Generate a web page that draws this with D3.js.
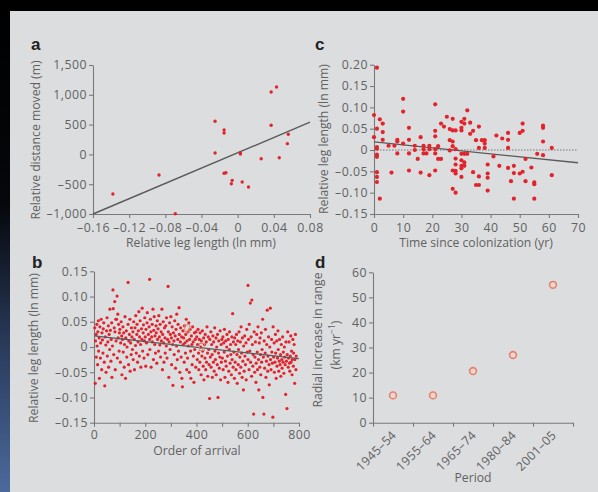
<!DOCTYPE html>
<html>
<head>
<meta charset="utf-8">
<script src="https://cdn.jsdelivr.net/npm/d3@7"></script>
<style>
body { margin: 0; background: #000; }
svg { display: block; }
</style>
</head>
<body>
<svg></svg>
<script>
// panel a
let aLeg  = [-0.138,-0.087,-0.069,-0.025,-0.025,-0.015,-0.015,-0.015,-0.013,-0.006,-0.007,0.003,0.003,0.005,0.012,0.026,0.037,0.043,0.037,0.046,0.055,0.056];
let aDist = [-664,-346,-995,555,23,409,359,-317,-307,-435,-492,23,7,-463,-547,-72,1047,1131,488,-55,180,337];
let aFit  = [[-0.16,-1000],[0.08,540]];
let aXTicks = [-0.16,-0.12,-0.08,-0.04,0,0.04,0.08];
let aYTicks = [-1000,-500,0,500,1000,1500];

// panel b
let bPoints = [
[3,0.038],[5,-0.072],[6,0.012],[8,0.025],[9,-0.02],[11,0.045],[12,0.002],[14,-0.035],[15,0.03],[17,0.052],[18,-0.008],[20,0.018],[21,-0.062],[23,0.04],[25,-0.022],[26,0.008],[28,0.055],[30,-0.045],[31,0.028],[33,0.014],[35,-0.012],[36,0.036],[38,0.048],[40,-0.03],[42,-0.077],[44,0.02],[46,0.004],[47,-0.05],[49,0.032],
[51,0.058],[52,-0.018],[54,0.01],[56,0.042],[57,-0.04],[59,0.025],[61,-0.005],[62,0.075],[64,0.033],[66,-0.028],[67,0.015],[69,0.048],[70,-0.06],[72,0.002],[74,0.113],[75,0.076],[77,-0.015],[79,0.038],[81,0.09],[82,0.03],[83,-0.045],[85,0.055],[86,0.012],[88,0.055],[90,0.101],[91,-0.022],[93,0.065],[94,0.018],[96,0.045],[98,-0.008],[99,0.028],
[101,0.035],[103,-0.03],[104,0.008],[106,0.05],[108,0.022],[109,-0.055],[111,0.015],[113,0.04],[114,-0.01],[116,0.028],[118,-0.04],[119,0.005],[121,0.06],[123,-0.062],[124,0.018],[126,0.032],[128,-0.02],[129,0.0],[133,0.128],[133,0.045],[135,-0.035],[136,0.012],[138,0.025],[140,0.055],[141,-0.048],[143,0.008],[145,-0.015],[146,0.038],[148,0.02],[150,-0.005],
[152,0.03],[153,-0.025],[155,0.05],[157,0.015],[158,-0.045],[160,0.038],[162,0.003],[163,0.062],[165,-0.012],[167,0.025],[168,0.045],[170,-0.03],[172,0.01],[173,0.032],[175,0.07],[177,-0.018],[178,0.02],[180,0.052],[182,0.005],[183,-0.04],[185,0.036],[187,0.015],[188,0.077],[190,-0.008],[192,0.028],[193,0.044],[195,-0.022],[197,0.012],[198,0.058],
[200,0.02],[202,-0.038],[203,0.035],[205,0.008],[207,0.048],[208,0.068],[210,-0.015],[212,0.025],[217,0.134],[215,0.04],[217,0.015],[218,-0.005],[220,0.055],[222,0.03],[223,-0.04],[225,0.02],[227,0.045],[228,0.01],[230,0.075],[232,-0.025],[233,0.033],[235,0.06],[237,0.005],[238,0.022],[240,-0.012],[242,0.042],[243,0.028],[245,-0.032],[247,0.052],[248,0.015],
[250,0.036],[252,-0.008],[253,0.062],[255,0.02],[257,0.004],[258,0.045],[260,-0.02],[262,0.03],[263,0.012],[265,0.075],[267,-0.045],[268,0.025],[270,0.05],[272,0.008],[273,-0.03],[275,0.038],[277,0.018],[278,-0.012],[280,0.042],[282,0.002],[283,0.058],[285,-0.022],[287,0.015],[289,0.12],[290,0.03],[292,-0.06],[293,0.01],[295,0.048],[297,-0.005],[298,0.025],
[300,0.06],[302,0.018],[303,-0.035],[305,0.04],[307,0.005],[308,-0.076],[310,0.028],[312,0.012],[313,-0.015],[315,0.052],[317,0.022],[318,-0.042],[320,0.035],[322,0.002],[323,0.065],[325,-0.025],[327,0.015],[328,0.045],[330,-0.008],[332,0.078],[333,0.025],[335,-0.05],[337,0.01],[338,0.038],[340,-0.02],[342,0.02],[343,-0.062],[345,-0.079],[347,0.032],[348,0.005],
[350,0.018],[352,-0.03],[353,0.042],[355,0.008],[357,-0.012],[358,0.025],[360,0.055],[362,-0.045],[363,0.012],[365,-0.022],[367,0.03],[368,0.002],[370,0.048],[372,-0.05],[373,0.015],[375,0.035],[377,-0.008],[378,-0.062],[380,0.022],[382,0.005],[383,-0.035],[385,0.04],[387,0.01],[388,-0.018],[390,-0.07],[392,0.028],[393,-0.005],[395,0.015],[397,-0.04],[398,0.03],
[401,0.02],[403,-0.025],[404,0.005],[406,0.035],[408,-0.012],[409,-0.045],[411,0.015],[413,-0.03],[414,0.028],[416,0.0],[418,-0.055],[419,0.012],[421,-0.018],[423,0.032],[424,-0.008],[426,-0.038],[428,0.018],[429,-0.065],[431,0.005],[433,-0.022],[434,0.025],[436,-0.045],[438,0.01],[439,-0.03],[441,0.04],[443,-0.012],[444,-0.058],[446,0.02],[448,-0.005],[449,-0.035],
[451,-0.102],[452,0.015],[454,-0.02],[456,0.03],[457,-0.04],[459,0.005],[461,-0.015],[462,-0.06],[464,0.022],[466,-0.03],[467,0.01],[469,-0.048],[471,0.038],[472,-0.008],[474,-0.025],[476,0.018],[477,-0.055],[479,0.0],[481,-0.035],[482,0.025],[484,-0.1],[486,-0.012],[487,0.012],[489,-0.042],[491,-0.02],[492,0.032],[494,-0.065],[496,0.005],[497,-0.03],[499,0.015],
[501,-0.022],[503,0.02],[504,-0.045],[506,0.008],[508,-0.01],[509,0.035],[511,-0.06],[513,-0.028],[514,0.012],[516,-0.038],[518,0.0],[519,0.025],[521,-0.018],[523,-0.07],[524,0.015],[526,-0.048],[528,-0.005],[529,0.03],[531,-0.032],[533,0.005],[534,-0.015],[536,-0.055],[538,0.02],[539,-0.025],[541,0.066],[543,-0.04],[544,0.01],[546,-0.01],[548,-0.062],[549,0.018],
[551,-0.03],[553,0.005],[554,-0.045],[556,0.025],[558,-0.015],[559,-0.072],[561,0.012],[563,-0.035],[564,-0.005],[566,0.03],[568,-0.052],[569,-0.02],[571,0.01],[573,-0.04],[574,0.04],[576,-0.012],[578,-0.06],[579,0.018],[581,-0.028],[583,-0.085],[584,0.002],[586,-0.048],[588,0.022],[589,-0.018],[591,-0.035],[593,0.008],[594,-0.065],[596,0.035],[598,-0.01],[601,0.122],
[601,-0.025],[603,0.015],[605,-0.045],[606,0.045],[608,-0.008],[610,0.087],[611,-0.03],[613,0.02],[615,-0.058],[616,0.093],[618,0.005],[620,-0.038],[621,-0.015],[623,-0.133],[625,0.03],[627,-0.05],[628,-0.02],[630,0.01],[632,-0.07],[633,-0.032],[635,0.025],[637,-0.01],[638,-0.045],[640,0.04],[642,-0.025],[643,-0.085],[645,0.008],[647,-0.04],[648,0.018],[650,-0.015],
[651,-0.055],[653,0.028],[654,-0.03],[656,-0.005],[658,0.055],[659,-0.1],[661,-0.02],[663,-0.133],[664,0.012],[666,-0.042],[668,-0.012],[669,0.035],[671,-0.06],[673,-0.028],[674,0.005],[676,0.073],[678,-0.048],[679,-0.018],[681,0.02],[683,-0.035],[684,-0.075],[686,0.0],[688,0.077],[689,-0.025],[691,-0.045],[693,0.015],[694,-0.01],[696,-0.032],[698,-0.139],[699,0.04],
[701,-0.02],[703,0.008],[704,-0.05],[706,-0.03],[708,0.025],[709,-0.012],[711,-0.062],[713,0.012],[714,-0.038],[716,-0.022],[718,0.032],[719,-0.005],[721,-0.048],[723,-0.028],[724,0.015],[726,-0.035],[728,-0.015],[729,-0.058],[731,0.005],[733,-0.025],[734,-0.042],[736,0.02],[738,-0.03],[739,-0.01],[741,-0.052],[743,0.0],[744,-0.02],[746,-0.035],[748,-0.094],[749,0.01],
[751,-0.028],[753,-0.122],[754,-0.015],[756,0.03],[758,-0.04],[759,-0.022],[761,0.01],[763,-0.032],[764,-0.048],[766,-0.018],[768,0.022],[769,-0.03],[771,-0.008],[773,-0.055],[774,-0.025],[776,0.015],[778,-0.038],[779,-0.012],[781,0.005],[783,-0.072],[784,-0.025],[786,0.025],[788,-0.045],[789,-0.018]
];
let bSquares = [[364,0.037],[421,0.0]];
let bFit = [[0,0.022],[800,-0.023]];
let bXTicks = [0,100,200,300,400,500,600,700,800];
let bXLabels = [0,200,400,600,800];
let bYTicks = [-0.15,-0.10,-0.05,0,0.05,0.10,0.15];

// panel c
let cPoints = [
[1,0.193],[0,0.082],[0,0.030],[1,0.050],[1,0.007],[1,0.003],[1,-0.011],[1,-0.016],[1,-0.052],[1,-0.063],[1,-0.075],[2,0.072],[3,0.062],[3,0.042],[3,0.024],[2,-0.114],
[5,0.010],[6,-0.053],[7,0.010],[8,0.024],[8,0.020],[8,-0.008],[10,0.120],[10,0.090],[10,0.015],[12,0.052],[12,0.024],[12,-0.008],[12,-0.048],[14,0.010],[14,0.000],[15,-0.021],
[16,0.030],[16,-0.053],[17,0.010],[17,0.002],[17,-0.008],[18,-0.008],[19,0.010],[19,0.002],[19,-0.059],[21,0.107],[21,0.045],[21,0.032],[21,0.002],[21,-0.008],[21,-0.048],
[22,0.009],[22,-0.021],[23,0.062],[23,-0.021],[24,0.055],[25,0.078],[26,0.049],[26,0.023],[26,-0.001],[27,0.073],[27,0.046],[27,0.020],[27,0.009],[27,-0.048],[27,-0.091],
[28,0.046],[28,0.002],[28,-0.020],[28,-0.034],[28,-0.049],[28,-0.055],[28,-0.100],[30,0.066],[30,0.052],[30,0.046],[30,-0.009],[30,-0.024],[30,-0.037],[30,-0.043],[30,-0.063],
[31,0.073],[31,0.062],[31,-0.009],[31,-0.029],[31,-0.037],[32,0.093],[32,-0.009],[33,0.064],[33,0.038],[34,0.045],[34,-0.052],[35,0.023],[35,-0.082],[36,0.055],[36,0.005],
[36,-0.062],[36,-0.082],[37,0.023],[38,0.023],[38,0.015],[38,0.005],[39,-0.034],[39,-0.055],[39,-0.065],[39,-0.095],[41,-0.015],[42,0.034],[43,-0.037],[44,0.027],
[46,0.040],[46,0.024],[46,0.005],[46,-0.042],[47,-0.073],[48,-0.037],[48,-0.054],[48,-0.114],[50,0.040],[50,-0.055],[51,0.062],[51,0.045],[51,-0.051],[52,-0.021],[52,-0.073],
[54,-0.041],[55,-0.076],[55,-0.080],[55,-0.114],[56,-0.009],[58,0.057],[58,0.052],[58,0.020],[58,-0.012],[61,0.005],[61,-0.059]
];
let cFit = [[0,0.019],[70,-0.03]];
let cXTicks = [0,10,20,30,40,50,60,70];
let cYTicks = [-0.15,-0.10,-0.05,0,0.05,0.10,0.15,0.20];

// panel d
let dPeriods = ["1945\u201354","1955\u201364","1965\u201374","1980\u201384","2001\u201305"];
let dRate = [10.9,10.9,20.6,27.0,55.0];
let dYTicks = [0,10,20,30,40,50,60];

let width = 598;
let height = 492;
let font = "'Open Sans', sans-serif";
let textColor = '#626262';
let axisColor = '#7a7a7a';
let dotColor = '#e3232b';

let svg = d3.select('svg').attr('width', width).attr('height', height);

// background
let defs = svg.append('defs');
let grad = defs.append('linearGradient').attr('id', 'side').attr('x1', 0).attr('y1', 0).attr('x2', 0).attr('y2', 1);
grad.append('stop').attr('offset', '0%').attr('stop-color', '#000');
grad.append('stop').attr('offset', '40%').attr('stop-color', '#05070b');
grad.append('stop').attr('offset', '70%').attr('stop-color', '#2a3b5c');
grad.append('stop').attr('offset', '100%').attr('stop-color', '#4b6a9c');
svg.append('rect').attr('width', width).attr('height', height).attr('fill', '#000');
svg.append('rect').attr('x', 0).attr('y', 11).attr('width', 10).attr('height', height - 11).attr('fill', 'url(#side)');
svg.append('rect').attr('x', 10).attr('y', 11).attr('width', width - 10).attr('height', height - 11).attr('fill', '#dcdddf');

// en dash as minus, like the figure
let dash = s => String(s).replace('\u2212', '\u2013').replace('-', '\u2013');
let fmt2 = d => d === 0 ? '0' : dash(d3.format('.2f')(d));
let fmtComma = d => dash(d3.format(',')(d));

let styleAxis = (g) => {
    g.attr('font-family', font).attr('font-size', 12.3);
    g.select('.domain').attr('stroke', axisColor).attr('stroke-width', 1.1);
    g.selectAll('.tick line').attr('stroke', axisColor).attr('stroke-width', 1.1);
    g.selectAll('.tick text').attr('fill', textColor).attr('letter-spacing', 0.5);
}

let panelLabel = (x, y, t) => {
    svg.append('text').attr('x', x).attr('y', y).text(t)
        .attr('font-family', "'Liberation Sans', Arial, sans-serif")
        .attr('font-weight', 'bold').attr('font-size', 17).attr('fill', '#222');
}

let title = (x, y, t, rotate) => {
    let el = svg.append('text')
        .attr('text-anchor', 'middle')
        .attr('font-family', font).attr('font-size', 12.2).attr('fill', textColor)
        .text(t);
    if (rotate) {
        el.attr('transform', 'translate(' + x + ',' + y + ') rotate(-90)');
    } else {
        el.attr('x', x).attr('y', y);
    }
    return el;
}

let fitLine = (pts, xs, ys) => {
    svg.append('path')
        .attr('d', d3.line().x(d => xs(d[0])).y(d => ys(d[1]))(pts))
        .attr('stroke', '#5a5a5a').attr('stroke-width', 1.4).attr('fill', 'none');
}

// ---------- panel a ----------
let ax = d3.scaleLinear().domain([-0.16, 0.08]).range([93, 310]);
let ay = d3.scaleLinear().domain([-1000, 1500]).range([214, 65]);

svg.append('g').attr('transform', 'translate(0,214)')
    .call(d3.axisBottom(ax).tickValues(aXTicks).tickFormat(fmt2).tickSize(4).tickSizeOuter(0).tickPadding(5))
    .call(styleAxis);
svg.append('g').attr('transform', 'translate(93,0)')
    .call(d3.axisLeft(ay).tickValues(aYTicks).tickFormat(fmtComma).tickSize(4).tickSizeOuter(0).tickPadding(2))
    .call(styleAxis);

fitLine(aFit, ax, ay);

svg.append('g').selectAll('circle')
    .data(aLeg)
    .enter()
    .append('circle')
    .attr('cx', d => ax(d))
    .attr('cy', (d, i) => ay(aDist[i]))
    .attr('r', 1.7)
    .attr('fill', dotColor);

panelLabel(31, 50, 'a');
title(40, 140, 'Relative distance moved (m)', true);
title(201, 247, 'Relative leg length (ln mm)', false);

// ---------- panel c ----------
let cx = d3.scaleLinear().domain([0, 70]).range([374, 578]);
let cy = d3.scaleLinear().domain([-0.15, 0.20]).range([214, 64.7]);

svg.append('g').attr('transform', 'translate(0,214)')
    .call(d3.axisBottom(cx).tickValues(cXTicks).tickFormat(d3.format('d')).tickSize(4).tickSizeOuter(0).tickPadding(5))
    .call(styleAxis);
svg.append('g').attr('transform', 'translate(374,0)')
    .call(d3.axisLeft(cy).tickValues(cYTicks).tickFormat(fmt2).tickSize(4).tickSizeOuter(0).tickPadding(2))
    .call(styleAxis);

svg.append('line')
    .attr('x1', cx(0)).attr('x2', cx(70))
    .attr('y1', cy(0)).attr('y2', cy(0))
    .attr('stroke', '#777').attr('stroke-width', 1).attr('stroke-dasharray', '1.5,1.5');

fitLine(cFit, cx, cy);

svg.append('g').selectAll('circle')
    .data(cPoints)
    .enter()
    .append('circle')
    .attr('cx', d => cx(d[0]))
    .attr('cy', d => cy(d[1]))
    .attr('r', 2.1)
    .attr('fill', dotColor);

panelLabel(315, 50, 'c');
title(328, 139, 'Relative leg length (ln mm)', true);
title(476, 247, 'Time since colonization (yr)', false);

// ---------- panel b ----------
let bx = d3.scaleLinear().domain([0, 800]).range([94, 299]);
let by = d3.scaleLinear().domain([-0.15, 0.15]).range([422.7, 271.3]);

svg.append('g').attr('transform', 'translate(0,422.7)')
    .call(d3.axisBottom(bx).tickValues(bXTicks).tickFormat(d => bXLabels.includes(d) ? d : '').tickSize(4).tickSizeOuter(0).tickPadding(4))
    .call(styleAxis);
svg.append('g').attr('transform', 'translate(94,0)')
    .call(d3.axisLeft(by).tickValues(bYTicks).tickFormat(fmt2).tickSize(4).tickSizeOuter(0).tickPadding(2))
    .call(styleAxis);

svg.append('g').selectAll('circle')
    .data(bPoints)
    .enter()
    .append('circle')
    .attr('cx', d => bx(d[0]))
    .attr('cy', d => by(d[1]))
    .attr('r', 1.6)
    .attr('fill', dotColor);

fitLine(bFit, bx, by);

svg.append('g').selectAll('rect')
    .data(bSquares)
    .enter()
    .append('rect')
    .attr('x', d => bx(d[0]) - 2.5)
    .attr('y', d => by(d[1]) - 3.5)
    .attr('width', 5)
    .attr('height', 7)
    .attr('fill', 'none')
    .attr('stroke', '#e0866a')
    .attr('stroke-width', 1);

panelLabel(32, 268, 'b');
title(38, 348, 'Relative leg length (ln mm)', true);
title(197, 455, 'Order of arrival', false);

// ---------- panel d ----------
let dx = d3.scaleBand().domain(dPeriods).range([373, 573]);
let dEdge = d3.scaleLinear().domain([0, dPeriods.length]).range([373, 573]);
let dy = d3.scaleLinear().domain([0, 60]).range([422.7, 272.3]);

svg.append('g').attr('transform', 'translate(0,422.7)')
    .call(d3.axisBottom(dEdge).ticks(dPeriods.length).tickFormat('').tickSize(4).tickSizeOuter(0))
    .call(styleAxis);
svg.append('g').attr('transform', 'translate(373,0)')
    .call(d3.axisLeft(dy).tickValues(dYTicks).tickSize(4).tickSizeOuter(0).tickPadding(2))
    .call(styleAxis);

svg.append('g').selectAll('text')
    .data(dPeriods)
    .enter()
    .append('text')
    .attr('transform', d => 'translate(' + (dx(d) + dx.bandwidth() / 2 + 4) + ',' + 436 + ') rotate(-45)')
    .attr('text-anchor', 'end')
    .attr('font-family', font).attr('font-size', 12.3).attr('letter-spacing', 0.3).attr('fill', textColor)
    .text(d => d);

svg.append('g').selectAll('circle')
    .data(dRate)
    .enter()
    .append('circle')
    .attr('cx', (d, i) => dx(dPeriods[i]) + dx.bandwidth() / 2)
    .attr('cy', d => dy(d))
    .attr('r', 3.4)
    .attr('fill', '#efd6cf')
    .attr('stroke', '#e5816d')
    .attr('stroke-width', 1.6);

panelLabel(315, 268, 'd');
title(322, 340, 'Radial increase in range', true);
let t2 = title(340, 345, '', true);
t2.append('tspan').text('(km yr');
t2.append('tspan').attr('font-size', 8.5).attr('baseline-shift', 'super').text('\u22121');
t2.append('tspan').text(')');
title(473, 482, 'Period', false);
</script>
</body>
</html>
